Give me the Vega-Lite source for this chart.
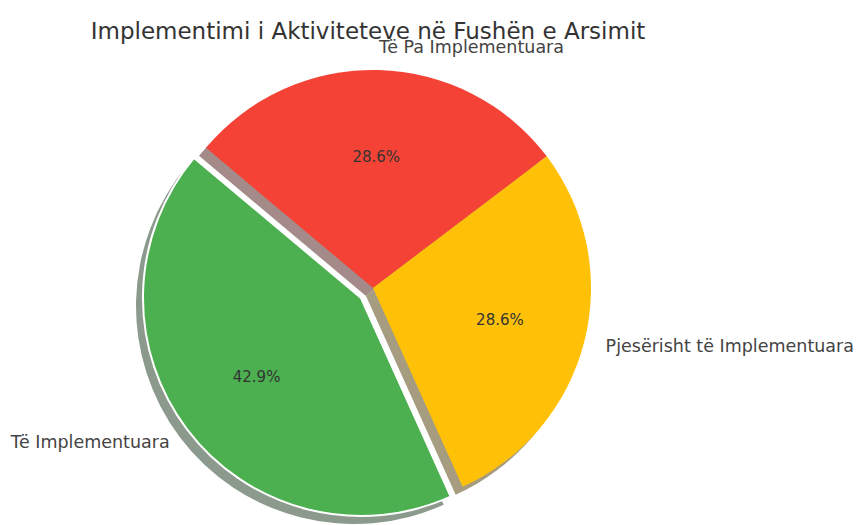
{
  "$schema": "https://vega.github.io/schema/vega-lite/v6.json",
  "autosize": "none",
  "width": 746,
  "height": 456,
  "padding": {"left": 0, "top": 60, "right": 113, "bottom": 9},
  "background": "white",
  "title": {
    "text": "Implementimi i Aktiviteteve në Fushën e Arsimit",
    "font": "DejaVu Sans",
    "fontSize": 23,
    "fontWeight": "normal",
    "color": "#333333",
    "anchor": "middle",
    "frame": "group",
    "baseline": "alphabetic",
    "offset": 17,
    "dx": -5,
    "dy": 40
  },
  "data": {
    "values": [
      {"cat": "Të Pa Implementuara", "share": 0.285714, "ord": 1},
      {"cat": "Pjesërisht të Implementuara", "share": 0.285714, "ord": 2},
      {"cat": "Të Implementuara", "share": 0.428571, "ord": 3}
    ]
  },
  "encoding": {
    "theta": {"field": "share", "type": "quantitative", "stack": true, "scale": {"domain": [0, 1], "range": [-0.872665, 5.410521]}},
    "order": {"field": "ord", "type": "quantitative"}
  },
  "layer": [
    {
      "mark": {"type": "arc", "radius": 218, "xOffset": -7, "yOffset": 8},
      "encoding": {
        "color": {"condition": [{"test": "datum.cat === 'Të Pa Implementuara'", "value": "#a48a88"}, {"test": "datum.cat === 'Pjesërisht të Implementuara'", "value": "#a69c80"}], "value": "#8b9a8c"},
        "opacity": {"condition": {"test": "datum.cat === 'Të Implementuara'", "value": 0}, "value": 1}
      }
    },
    {
      "mark": {"type": "arc", "radius": 218, "xOffset": -19, "yOffset": 18},
      "encoding": {
        "color": {"value": "#8b9a8c"},
        "opacity": {"condition": {"test": "datum.cat === 'Të Implementuara'", "value": 1}, "value": 0}
      }
    },
    {
      "mark": {"type": "arc", "radius": 218},
      "encoding": {
        "color": {"condition": [{"test": "datum.cat === 'Të Pa Implementuara'", "value": "#F44336"}, {"test": "datum.cat === 'Pjesërisht të Implementuara'", "value": "#FFC107"}], "value": "#4CAF50"},
        "opacity": {"condition": {"test": "datum.cat === 'Të Implementuara'", "value": 0}, "value": 1}
      }
    },
    {
      "mark": {"type": "arc", "radius": 218, "xOffset": -12, "yOffset": 10, "stroke": "white", "strokeWidth": 2},
      "encoding": {
        "color": {"value": "#4CAF50"},
        "opacity": {"condition": {"test": "datum.cat === 'Të Implementuara'", "value": 1}, "value": 0}
      }
    },
    {
      "mark": {"type": "text", "radius": 131, "font": "DejaVu Sans", "fontSize": 15, "color": "#333333", "align": "center", "baseline": "middle"},
      "encoding": {
        "text": {"condition": {"test": "datum.cat === 'Të Implementuara'", "value": ""}, "field": "share", "type": "quantitative", "format": ".1%"}
      }
    },
    {
      "mark": {"type": "text", "radius": 131, "xOffset": -12, "yOffset": 10, "font": "DejaVu Sans", "fontSize": 15, "color": "#333333", "align": "center", "baseline": "middle"},
      "encoding": {
        "text": {"condition": {"test": "datum.cat !== 'Të Implementuara'", "value": ""}, "field": "share", "type": "quantitative", "format": ".1%"}
      }
    },
    {
      "mark": {"type": "text", "radius": 240, "font": "DejaVu Sans", "fontSize": 17.5, "color": "#444444", "align": "left", "baseline": "middle"},
      "encoding": {
        "text": {"condition": {"test": "datum.cat === 'Të Implementuara'", "value": ""}, "field": "cat", "type": "nominal"}
      }
    },
    {
      "mark": {"type": "text", "radius": 240, "xOffset": -12, "yOffset": 10, "font": "DejaVu Sans", "fontSize": 17.5, "color": "#444444", "align": "right", "baseline": "middle"},
      "encoding": {
        "text": {"condition": {"test": "datum.cat !== 'Të Implementuara'", "value": ""}, "field": "cat", "type": "nominal"}
      }
    }
  ],
  "config": {"view": {"stroke": null}}
}
